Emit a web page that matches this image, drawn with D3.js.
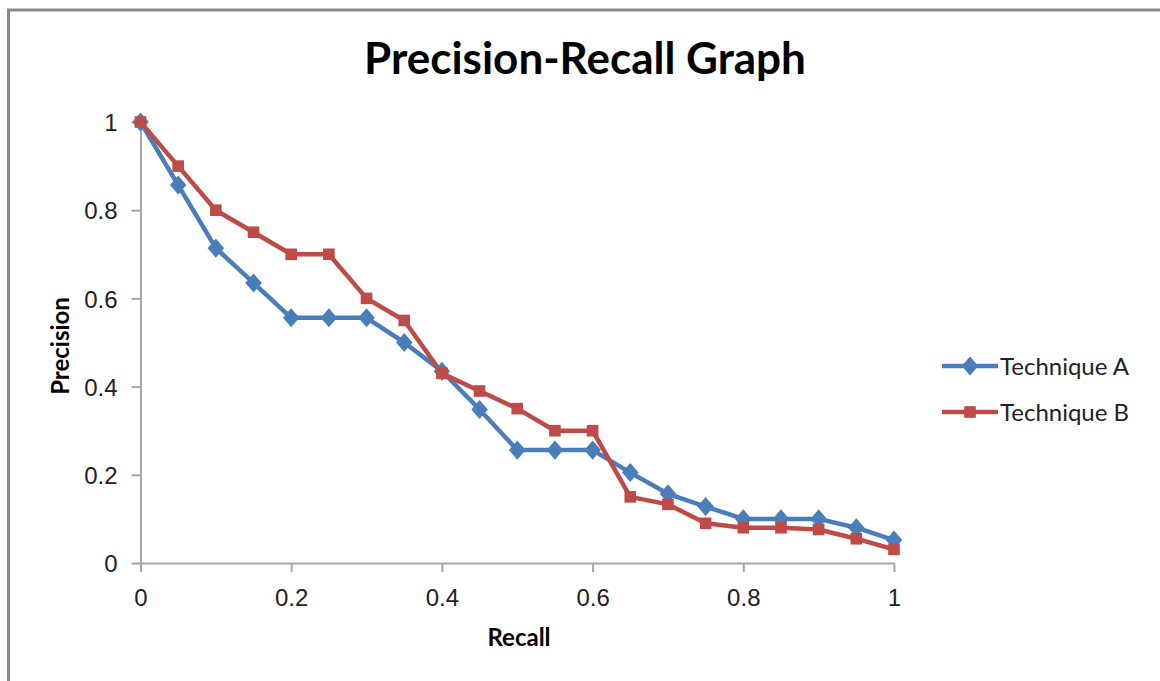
<!DOCTYPE html>
<html>
<head>
<meta charset="utf-8">
<script src="https://cdn.jsdelivr.net/npm/d3@7"></script>
<style>
  body { margin: 0; background: #fff; }
  svg { display: block; font-family: Lato, "Open Sans", sans-serif; }
</style>
</head>
<body>
<svg id="chart" width="1160" height="681"></svg>
<script>
const recall = [0, 0.05, 0.1, 0.15, 0.2, 0.25, 0.3, 0.35, 0.4, 0.45, 0.5,
                0.55, 0.6, 0.65, 0.7, 0.75, 0.8, 0.85, 0.9, 0.95, 1];
const techniqueA = [1, 0.857, 0.714, 0.635, 0.556, 0.556, 0.556, 0.5, 0.435, 0.348, 0.256,
                    0.256, 0.256, 0.205, 0.157, 0.128, 0.1, 0.1, 0.1, 0.08, 0.052];
const techniqueB = [1, 0.9, 0.8, 0.75, 0.7, 0.7, 0.6, 0.55, 0.43, 0.39, 0.35,
                    0.3, 0.3, 0.15, 0.133, 0.09, 0.08, 0.08, 0.076, 0.055, 0.031];
const seriesNames = ["Technique A", "Technique B"];
const xTicks = [0, 0.2, 0.4, 0.6, 0.8, 1];
const yTicks = [0, 0.2, 0.4, 0.6, 0.8, 1];

const svg = d3.select("#chart");
const colors = ["#4a7ebb", "#be4b48"];

// outer chart frame (only left/top visible in the capture)
svg.append("rect")
    .attr("x", 8.5).attr("y", 10)
    .attr("width", 1200).attr("height", 700)
    .attr("fill", "none").attr("stroke", "#8a8a8a").attr("stroke-width", 3);

const x = d3.scaleLinear().domain([0, 1]).range([140.5, 894]);
const y = d3.scaleLinear().domain([0, 1]).range([563, 122]);

const gx = svg.append("g")
    .attr("transform", `translate(0,${y(0)})`)
    .call(d3.axisBottom(x).tickValues(xTicks).tickFormat(d3.format("")).tickSizeInner(9).tickSizeOuter(0).tickPadding(17));
const gy = svg.append("g")
    .attr("transform", `translate(${x(0)},0)`)
    .call(d3.axisLeft(y).tickValues(yTicks).tickFormat(d3.format("")).tickSizeInner(9).tickSizeOuter(0).tickPadding(14));

[gx, gy].forEach(g => {
    g.select(".domain").attr("stroke", "#a6a6a6").attr("stroke-width", 2);
    g.selectAll(".tick line").attr("stroke", "#a6a6a6").attr("stroke-width", 2);
    g.selectAll(".tick text").attr("fill", "#222").style("font-size", "24px");
});
gy.selectAll(".tick text").attr("dy", "0.36em");

const line = d3.line().x((d, i) => x(recall[i])).y(d => y(d));

const series = [techniqueA, techniqueB];
series.forEach((vals, s) => {
    svg.append("path")
        .datum(vals)
        .attr("d", line)
        .attr("fill", "none")
        .attr("stroke", colors[s])
        .attr("stroke-width", 4.5)
        .attr("stroke-linejoin", "round");
});

const diamond = d3.symbol().type(d3.symbolDiamond2).size(175);
const square = d3.symbol().type(d3.symbolSquare).size(135);

svg.append("g").selectAll("path")
    .data(techniqueA)
    .join("path")
    .attr("d", diamond)
    .attr("transform", (d, i) => `translate(${x(recall[i])},${y(d)}) scale(1,1.15)`)
    .attr("fill", colors[0]);

svg.append("g").selectAll("path")
    .data(techniqueB)
    .join("path")
    .attr("d", square)
    .attr("transform", (d, i) => `translate(${x(recall[i])},${y(d)})`)
    .attr("fill", colors[1]);

// title and axis labels
svg.append("text")
    .attr("x", 585).attr("y", 74)
    .attr("text-anchor", "middle")
    .style("font-size", "44px").style("font-weight", "bold")
    .text("Precision-Recall Graph");

svg.append("text")
    .attr("x", 519).attr("y", 646)
    .attr("text-anchor", "middle")
    .style("font-size", "24px").style("font-weight", "bold")
    .text("Recall");

svg.append("text")
    .attr("transform", "translate(69,346) rotate(-90)")
    .attr("text-anchor", "middle")
    .style("font-size", "24px").style("font-weight", "bold")
    .text("Precision");

// legend
const legend = svg.append("g");
seriesNames.forEach((name, s) => {
    const ly = 366 + s * 46;
    legend.append("line")
        .attr("x1", 942).attr("x2", 998).attr("y1", ly).attr("y2", ly)
        .attr("stroke", colors[s]).attr("stroke-width", 4.5);
    legend.append("path")
        .attr("d", s === 0 ? diamond : square)
        .attr("transform", `translate(970,${ly})` + (s === 0 ? " scale(1,1.15)" : ""))
        .attr("fill", colors[s]);
    legend.append("text")
        .attr("x", 1000).attr("y", ly)
        .attr("dy", "0.36em")
        .style("font-size", "24px")
        .attr("fill", "#222")
        .text(name);
});
</script>
</body>
</html>
